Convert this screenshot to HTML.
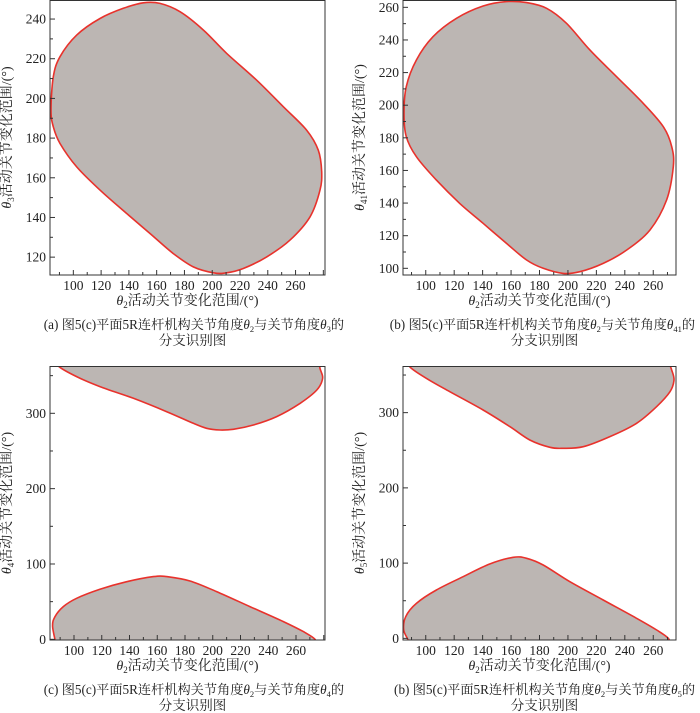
<!DOCTYPE html>
<html><head><meta charset="utf-8">
<style>
body{margin:0;background:#fff;}
svg{display:block;font-family:"Liberation Serif","Noto Serif CJK SC",serif;}
</style></head>
<body>
<svg id="s" width="700" height="713" viewBox="0 0 700 713" xmlns="http://www.w3.org/2000/svg"></svg>
<script>
// ---- data (θ2 values and the matching joint angle values) ----
const aX = [83.9,85.6,90.4,102.4,119.2,138.4,155.2,172,186.4,200.8,210.4,222.4,239.2,256,270.4,277.6,278.8,276.4,268,251.2,232,210.4,193.6,176.8,162.4,150.4,136,119.2,102.4,90.4,85.6];
const aY = [194.1,185.7,177.3,165.5,153.8,142,131.9,121.8,115.1,112.1,112.1,114.3,120.1,128.6,140.3,153.8,163,173.9,184,195.8,209.2,222.7,234.5,243.7,247.9,248.2,245.4,240.3,231.9,221,210.9];
const bX = [84.7,86.3,93.4,107.5,123.9,140.3,156.8,170.9,182.6,196.7,208.4,224.8,241.3,257.7,269.4,274.1,273,267.1,253,234.2,215.5,199,185,170.9,156.8,140.3,121.6,105.1,93.4,86.3];
const bY = [195,180.7,168.4,154.1,139.8,127.6,115.3,105.1,100,96.9,97.9,103,111.2,123.5,141.9,162.3,174.6,186.8,201.1,217.5,233.8,250.2,259.4,262.9,263.5,260.8,253.3,242,227.7,211.4];
const cTopX = [87.5,88.7,101.9,118.7,142.8,166.8,186,195.6,205.2,214.8,229.3,246.1,263,275,279.2,277.3,276.1];
const cTopY = [375,362.8,348.7,335.4,319.9,302.2,286.7,280.1,277.9,278.8,284.5,295.6,313.3,331,346.5,359.7,375];
const cBotX = [87.5,84.6,86.3,92.3,101.9,118.7,138,157.2,166.8,183.6,202.8,226.8,250.9,265.3,273.7,275];
const cBotY = [-10,16.8,30.1,43.4,54.4,66.4,76.5,83.2,83.2,77.4,63.3,43.4,23.5,10.2,0,-10];
const dTopX = [88.2,88.2,100.4,116.9,140.3,159.1,173.2,187.3,196.7,210.8,229.5,248.3,262.4,271.8,274.6,273,271.3,271.3];
const dTopY = [375,362,345.6,327.9,303.5,281.4,263.7,253.9,252.6,254.8,268.1,285.8,308,327.9,343.4,356.7,365.6,375];
const dBotX = [87.5,87.5,84.5,85.9,93.4,107.5,126.3,145,161.5,170.9,182.6,201.4,224.8,248.3,262.4,270.6,272];
const dBotY = [-10,-2.2,11.1,28.8,46.5,64.3,82,98.8,107.7,106.4,97.5,75.3,51,26.6,11.1,0,-10];
const xTicks = [100,120,140,160,180,200,220,240,260];
const aTicks = [120,140,160,180,200,220,240];
const bTicks = [100,120,140,160,180,200,220,240,260];
const cTicks = [0,100,200,300];

const NS="http://www.w3.org/2000/svg";
const svg=document.getElementById('s');
function el(t,a,p){const e=document.createElementNS(NS,t);for(const k in a)e.setAttribute(k,a[k]);(p||svg).appendChild(e);return e;}

function smoothPath(pts,closed){
  const n=pts.length;let d='M'+pts[0][0].toFixed(1)+','+pts[0][1].toFixed(1);
  const get=i=>closed?pts[(i+n)%n]:pts[Math.max(0,Math.min(n-1,i))];
  const segs=closed?n:n-1;
  for(let i=0;i<segs;i++){
    const p0=get(i-1),p1=get(i),p2=get(i+1),p3=get(i+2);
    const c1=[p1[0]+(p2[0]-p0[0])/6,p1[1]+(p2[1]-p0[1])/6];
    const c2=[p2[0]-(p3[0]-p1[0])/6,p2[1]-(p3[1]-p1[1])/6];
    d+='C'+c1[0].toFixed(1)+','+c1[1].toFixed(1)+' '+c2[0].toFixed(1)+','+c2[1].toFixed(1)+' '+p2[0].toFixed(1)+','+p2[1].toFixed(1);
  }
  return d+'Z';
}

const panels=[
 {id:'a',x0:50,x1:325,y0:0,y1:275,xd:[83.2,281.2],yd:[111,249.6],shapes:[[aX,aY,true]],yt:aTicks,ym:10,sub:'3',
  cap:'(a) 图5(c)平面5R连杆机构关节角度',capSub:'3'},
 {id:'b',x0:403,x1:676,y0:0,y1:275,xd:[84,276],yd:[95.9,264.5],shapes:[[bX,bY,true]],yt:bTicks,ym:10,sub:'41',
  cap:'(b) 图5(c)平面5R连杆机构关节角度',capSub:'41'},
 {id:'c',x0:50,x1:325,y0:366,y1:640,xd:[82.7,280.9],yd:[-0.9,362.8],shapes:[[cTopX,cTopY,false],[cBotX,cBotY,false]],yt:cTicks,ym:50,sub:'4',
  cap:'(c) 图5(c)平面5R连杆机构关节角度',capSub:'4'},
 {id:'d',x0:403,x1:676,y0:366,y1:640,xd:[84,276],yd:[-2.2,362],shapes:[[dTopX,dTopY,false],[dBotX,dBotY,false]],yt:cTicks,ym:50,sub:'5',
  cap:'(b) 图5(c)平面5R连杆机构关节角度',capSub:'5'}
];

panels.forEach(p=>{
  const g=el('g',{});
  
  
  const sx=v=>p.x0+(v-p.xd[0])/(p.xd[1]-p.xd[0])*(p.x1-p.x0);
  const sy=v=>p.y1-(v-p.yd[0])/(p.yd[1]-p.yd[0])*(p.y1-p.y0);
  const cp=el('clipPath',{id:'clip'+p.id},g);
  el('rect',{x:p.x0,y:p.y0,width:p.x1-p.x0,height:p.y1-p.y0},cp);
  p.shapes.forEach((s,i)=>{
    const pts=s[0].map((xv,k)=>[sx(xv),sy(s[1][k])]);
    const path=el('path',{d:smoothPath(pts,s[2]),fill:'#bcb6b3',stroke:'#e8322c','stroke-width':1.6,'stroke-linejoin':'round','clip-path':'url(#clip'+p.id+')'},g);
    
    
  });
  const fr=el('rect',{x:p.x0,y:p.y0+0.5,width:p.x1-p.x0,height:p.y1-p.y0-0.5,fill:'none',stroke:'#333','stroke-width':1},g);
  
  
  for(let v=90;v<=p.xd[1];v+=10){
    const X=sx(v);if(X<p.x0||X>p.x1)continue;
    const maj=v%20===0;
    el('line',{x1:X,x2:X,y1:p.y1,y2:p.y1-(maj?5:3),stroke:'#333'},g);
  }
  xTicks.forEach(v=>{
    const t=el('text',{x:sx(v),y:p.y1+15,'text-anchor':'middle','font-size':13.5,fill:'#222'},g);
    t.textContent=v;
    
    
  });
  const step=p.ym;
  for(let v=Math.ceil(p.yd[0]/step)*step;v<=p.yd[1];v+=step){
    const Y=sy(v);
    const maj=p.yt.indexOf(v)>=0;
    el('line',{x1:p.x0,x2:p.x0+(maj?5:3),y1:Y,y2:Y,stroke:'#333'},g);
  }
  p.yt.forEach(v=>{
    const t=el('text',{x:p.x0-4,y:sy(v)+4.5,'text-anchor':'end','font-size':13.5,fill:'#222'},g);
    t.textContent=v;
    
    
  });
  const cx=(p.x0+p.x1)/2;
  const xt=el('text',{x:cx,y:p.y1+30,'text-anchor':'middle','font-size':14,fill:'#222'},g);
  xt.innerHTML='<tspan font-style="italic">θ</tspan><tspan font-size="9" dy="3">2</tspan><tspan dy="-3">活动关节变化范围/(°)</tspan>';
  
  
  const cy=(p.y0+p.y1)/2;
  const yt=el('text',{x:0,y:0,'text-anchor':'middle','font-size':14,fill:'#222',transform:'translate('+(p.x0-39)+','+cy+') rotate(-90)'},g);
  yt.innerHTML='<tspan font-style="italic">θ</tspan><tspan font-size="9" dy="3">'+p.sub+'</tspan><tspan dy="-3">活动关节变化范围/(°)</tspan>';
  
  
  const c1=el('text',{x:p.x1+19,y:p.y1+54,'text-anchor':'end','font-size':13.2,fill:'#222'},g);
  c1.innerHTML=p.cap+'<tspan font-style="italic">θ</tspan><tspan font-size="8.5" dy="3">2</tspan><tspan dy="-3">与关节角度</tspan><tspan font-style="italic">θ</tspan><tspan font-size="8.5" dy="3">'+p.capSub+'</tspan><tspan dy="-3">的</tspan>';
  
  
  const c2=el('text',{x:cx+5,y:p.y1+70,'text-anchor':'middle','font-size':13.5,fill:'#222'},g);
  c2.textContent='分支识别图';
  
  
});
</script>
</body></html>
